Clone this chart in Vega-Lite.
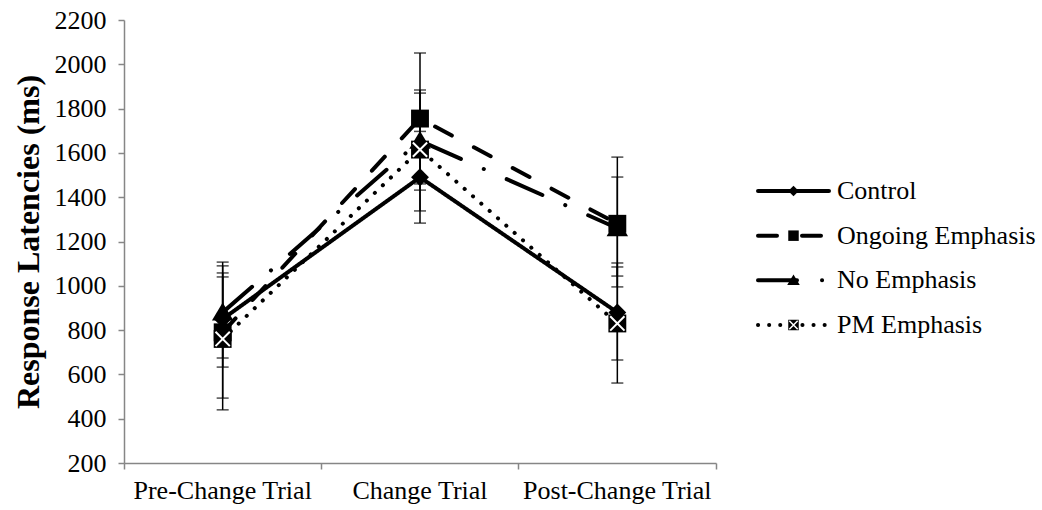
{
  "$schema": "https://vega.github.io/schema/vega-lite/v6.json",
  "background": "white",
  "padding": {"left": 12, "top": 7, "right": 5, "bottom": 5},
  "bounds": "flush",
  "spacing": 42,
  "config": {
    "view": {"stroke": null},
    "font": "Liberation Serif",
    "axis": {
      "domainColor": "#868686",
      "tickColor": "#868686",
      "domainWidth": 1.5,
      "tickWidth": 1.5,
      "labelColor": "black",
      "labelFont": "Liberation Serif",
      "labelFontSize": 26,
      "labelLimit": 0,
      "titleFont": "Liberation Serif",
      "titleColor": "black",
      "grid": false
    },
    "axisY": {
      "tickSize": 6,
      "labelPadding": 12,
      "titleFontSize": 32,
      "titleFontWeight": "bold",
      "titlePadding": 9,
      "format": "d"
    },
    "axisX": {
      "tickSize": 6,
      "labelPadding": 8,
      "labelAngle": 0,
      "bandPosition": 1,
      "tickExtra": true
    }
  },
  "datasets": {
    "means": [
      {"trial": "Pre-Change Trial", "series": "Control", "mean": 850, "lower": 633, "upper": 1058},
      {"trial": "Pre-Change Trial", "series": "Ongoing Emphasis", "mean": 790, "lower": 493, "upper": 1090},
      {"trial": "Pre-Change Trial", "series": "No Emphasis", "mean": 880, "lower": 674, "upper": 1107},
      {"trial": "Pre-Change Trial", "series": "PM Emphasis", "mean": 760, "lower": 440, "upper": 1040},
      {"trial": "Change Trial", "series": "Control", "mean": 1490, "lower": 1283, "upper": 1697},
      {"trial": "Change Trial", "series": "Ongoing Emphasis", "mean": 1755, "lower": 1460, "upper": 2051},
      {"trial": "Change Trial", "series": "No Emphasis", "mean": 1655, "lower": 1432, "upper": 1870},
      {"trial": "Change Trial", "series": "PM Emphasis", "mean": 1615, "lower": 1338, "upper": 1884},
      {"trial": "Post-Change Trial", "series": "Control", "mean": 880, "lower": 665, "upper": 1103},
      {"trial": "Post-Change Trial", "series": "Ongoing Emphasis", "mean": 1280, "lower": 995, "upper": 1581},
      {"trial": "Post-Change Trial", "series": "No Emphasis", "mean": 1260, "lower": 1044, "upper": 1491},
      {"trial": "Post-Change Trial", "series": "PM Emphasis", "mean": 830, "lower": 561, "upper": 1085}
    ]
  },
  "hconcat": [
    {
      "width": 592,
      "height": 443,
      "data": {"name": "means"},
      "encoding": {
        "x": {
          "field": "trial",
          "type": "nominal",
          "sort": ["Pre-Change Trial", "Change Trial", "Post-Change Trial"],
          "scale": {"type": "band", "paddingInner": 0, "paddingOuter": 0},
          "title": null
        }
      },
      "layer": [
        {
          "mark": {"type": "rule", "color": "black", "strokeWidth": 1.5},
          "encoding": {
            "y": {"field": "lower", "type": "quantitative", "scale": {"domain": [200, 2200], "nice": false}, "title": "Response Latencies (ms)", "axis": {"values": [200, 400, 600, 800, 1000, 1200, 1400, 1600, 1800, 2000, 2200]}},
            "y2": {"field": "upper"}
          }
        },
        {
          "mark": {"type": "tick", "color": "black", "thickness": 1.5, "size": 12, "orient": "horizontal"},
          "encoding": {
            "y": {"field": "lower", "type": "quantitative", "scale": {"domain": [200, 2200], "nice": false}, "title": "Response Latencies (ms)"}
          }
        },
        {
          "mark": {"type": "tick", "color": "black", "thickness": 1.5, "size": 12, "orient": "horizontal"},
          "encoding": {
            "y": {"field": "upper", "type": "quantitative", "scale": {"domain": [200, 2200], "nice": false}, "title": "Response Latencies (ms)"}
          }
        },
        {
          "mark": {"type": "line", "color": "black", "strokeWidth": 4, "strokeCap": "round"},
          "encoding": {
            "y": {"field": "mean", "type": "quantitative", "scale": {"domain": [200, 2200], "nice": false}, "title": "Response Latencies (ms)"},
            "strokeDash": {
              "field": "series",
              "type": "nominal",
              "scale": {"domain": ["Control", "Ongoing Emphasis", "No Emphasis", "PM Emphasis"], "range": [[1, 0], [19, 25], [39, 25, 0.1, 25], [0.1, 11]]},
              "legend": null
            }
          }
        },
        {
          "mark": {"type": "point", "filled": true, "color": "black", "size": 320, "opacity": 1},
          "encoding": {
            "y": {"field": "mean", "type": "quantitative", "scale": {"domain": [200, 2200], "nice": false}, "title": "Response Latencies (ms)"},
            "shape": {
              "field": "series",
              "type": "nominal",
              "scale": {"domain": ["Control", "Ongoing Emphasis", "No Emphasis", "PM Emphasis"], "range": ["diamond", "square", "M0,-1.1L1.2,0.9L-1.2,0.9Z", "square"]},
              "legend": null
            }
          }
        },
        {
          "transform": [{"filter": "datum.series === 'PM Emphasis'"}],
          "mark": {"type": "point", "filled": false, "stroke": "white", "strokeWidth": 2, "size": 320, "opacity": 1, "shape": "M-0.8,-0.8L0.8,0.8M-0.8,0.8L0.8,-0.8"},
          "encoding": {
            "y": {"field": "mean", "type": "quantitative", "scale": {"domain": [200, 2200], "nice": false}, "title": "Response Latencies (ms)"}
          }
        }
      ]
    },
    {
      "width": 71,
      "height": 443,
      "data": {"name": "means"},
      "transform": [{"filter": "datum.trial === 'Change Trial'"}],
      "encoding": {
        "y": {
          "field": "series",
          "type": "nominal",
          "sort": ["Control", "Ongoing Emphasis", "No Emphasis", "PM Emphasis"],
          "scale": {"type": "point", "padding": 0, "range": [171, 305]},
          "axis": null
        }
      },
      "layer": [
        {
          "mark": {"type": "rule", "color": "black", "strokeWidth": 4, "strokeCap": "round"},
          "encoding": {
            "x": {"datum": 0, "type": "quantitative", "scale": {"domain": [0, 1]}, "axis": null},
            "x2": {"datum": 1},
            "strokeDash": {
              "field": "series",
              "type": "nominal",
              "scale": {"domain": ["Control", "Ongoing Emphasis", "No Emphasis", "PM Emphasis"], "range": [[1, 0], [19, 25], [39, 25, 0.1, 25], [0.1, 11]]},
              "legend": null
            }
          }
        },
        {
          "mark": {"type": "point", "filled": true, "color": "black", "size": 110, "opacity": 1},
          "encoding": {
            "x": {"datum": 0.5, "type": "quantitative", "scale": {"domain": [0, 1]}, "axis": null},
            "shape": {
              "field": "series",
              "type": "nominal",
              "scale": {"domain": ["Control", "Ongoing Emphasis", "No Emphasis", "PM Emphasis"], "range": ["diamond", "square", "M0,-1.1L1.2,0.9L-1.2,0.9Z", "square"]},
              "legend": null
            }
          }
        },
        {
          "transform": [{"filter": "datum.series === 'PM Emphasis'"}],
          "mark": {"type": "point", "filled": false, "stroke": "white", "strokeWidth": 1.5, "size": 110, "opacity": 1, "shape": "M-0.8,-0.8L0.8,0.8M-0.8,0.8L0.8,-0.8"},
          "encoding": {
            "x": {"datum": 0.5, "type": "quantitative", "scale": {"domain": [0, 1]}, "axis": null}
          }
        },
        {
          "mark": {"type": "text", "align": "left", "baseline": "middle", "dx": 8, "fontSize": 26, "font": "Liberation Serif", "color": "black"},
          "encoding": {
            "x": {"datum": 1, "type": "quantitative", "scale": {"domain": [0, 1]}, "axis": null},
            "text": {"field": "series"}
          }
        }
      ]
    }
  ]
}
